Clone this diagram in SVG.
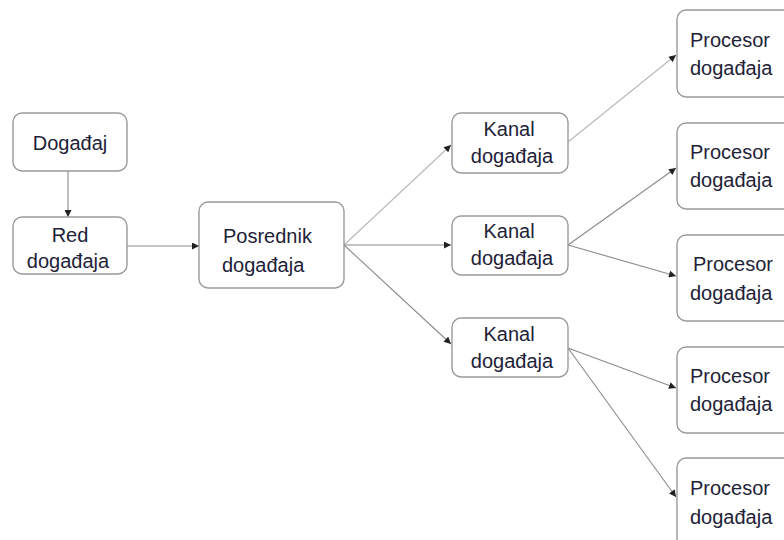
<svg xmlns="http://www.w3.org/2000/svg" width="784" height="540" viewBox="0 0 784 540">
<style>
.box{fill:#fff;stroke:#9a9a9a;stroke-width:1.4}
.t{font-family:"Liberation Sans",Arial,sans-serif;font-size:20px;fill:#1e2238}
.c{fill:none;stroke:#8a8a8a;stroke-width:1.1}
.lt{stroke:#b8b8b8}
</style>
<defs>
<marker id="ah" viewBox="0 0 10 10" refX="10" refY="5" markerWidth="8" markerHeight="7" markerUnits="userSpaceOnUse" orient="auto">
<path d="M0,0 L10,5 L0,10 z" fill="#222"/>
</marker>
</defs>
<rect width="784" height="540" fill="#fff"/>
<g id="connectors">
<line class="c" x1="68" y1="171" x2="68" y2="217" marker-end="url(#ah)"/>
<line class="c" x1="127" y1="246" x2="199" y2="246" marker-end="url(#ah)"/>
<line class="c lt" x1="344" y1="245" x2="451" y2="145" marker-end="url(#ah)"/>
<line class="c" x1="344" y1="245" x2="451" y2="245" marker-end="url(#ah)"/>
<line class="c" x1="344" y1="245" x2="451" y2="344" marker-end="url(#ah)"/>
<line class="c lt" x1="568" y1="142" x2="676" y2="55" marker-end="url(#ah)"/>
<line class="c" x1="568" y1="245" x2="676" y2="168" marker-end="url(#ah)"/>
<line class="c" x1="568" y1="245" x2="676" y2="276" marker-end="url(#ah)"/>
<line class="c" x1="568" y1="348" x2="676" y2="388" marker-end="url(#ah)"/>
<line class="c" x1="568" y1="348" x2="676" y2="497" marker-end="url(#ah)"/>
</g>
<g id="dogadjaj">
<rect class="box" x="13" y="113" width="114" height="58" rx="9"/>
<text class="t" x="70" y="150" text-anchor="middle">Događaj</text>
</g>
<g id="red">
<rect class="box" x="13" y="217" width="114" height="57" rx="9"/>
<text class="t" x="70" y="242" text-anchor="middle">Red</text>
<text class="t" x="68" y="268" text-anchor="middle">događaja</text>
</g>
<g id="posrednik">
<rect class="box" x="199" y="202" width="145" height="86" rx="9"/>
<text class="t" x="223" y="243">Posrednik</text>
<text class="t" x="222" y="272">događaja</text>
</g>
<g id="kanal1">
<rect class="box" x="452" y="113" width="116" height="60" rx="9"/>
<text class="t" x="509" y="136" text-anchor="middle">Kanal</text>
<text class="t" x="512" y="163" text-anchor="middle">događaja</text>
</g>
<g id="kanal2">
<rect class="box" x="452" y="216" width="116" height="59" rx="9"/>
<text class="t" x="509" y="238" text-anchor="middle">Kanal</text>
<text class="t" x="512" y="265" text-anchor="middle">događaja</text>
</g>
<g id="kanal3">
<rect class="box" x="452" y="318" width="116" height="59" rx="9"/>
<text class="t" x="509" y="341" text-anchor="middle">Kanal</text>
<text class="t" x="512" y="368" text-anchor="middle">događaja</text>
</g>
<g id="procesor1">
<rect class="box" x="677" y="10" width="120" height="87" rx="9"/>
<text class="t" x="690" y="47">Procesor</text>
<text class="t" x="690" y="75">događaja</text>
</g>
<g id="procesor2">
<rect class="box" x="677" y="123" width="120" height="86" rx="9"/>
<text class="t" x="690" y="159">Procesor</text>
<text class="t" x="690" y="187">događaja</text>
</g>
<g id="procesor3">
<rect class="box" x="677" y="235" width="120" height="86" rx="9"/>
<text class="t" x="693" y="271">Procesor</text>
<text class="t" x="690" y="300">događaja</text>
</g>
<g id="procesor4">
<rect class="box" x="677" y="347" width="120" height="86" rx="9"/>
<text class="t" x="690" y="383">Procesor</text>
<text class="t" x="690" y="411">događaja</text>
</g>
<g id="procesor5">
<rect class="box" x="677" y="458" width="120" height="90" rx="9"/>
<text class="t" x="690" y="495">Procesor</text>
<text class="t" x="690" y="524">događaja</text>
</g>
</svg>
